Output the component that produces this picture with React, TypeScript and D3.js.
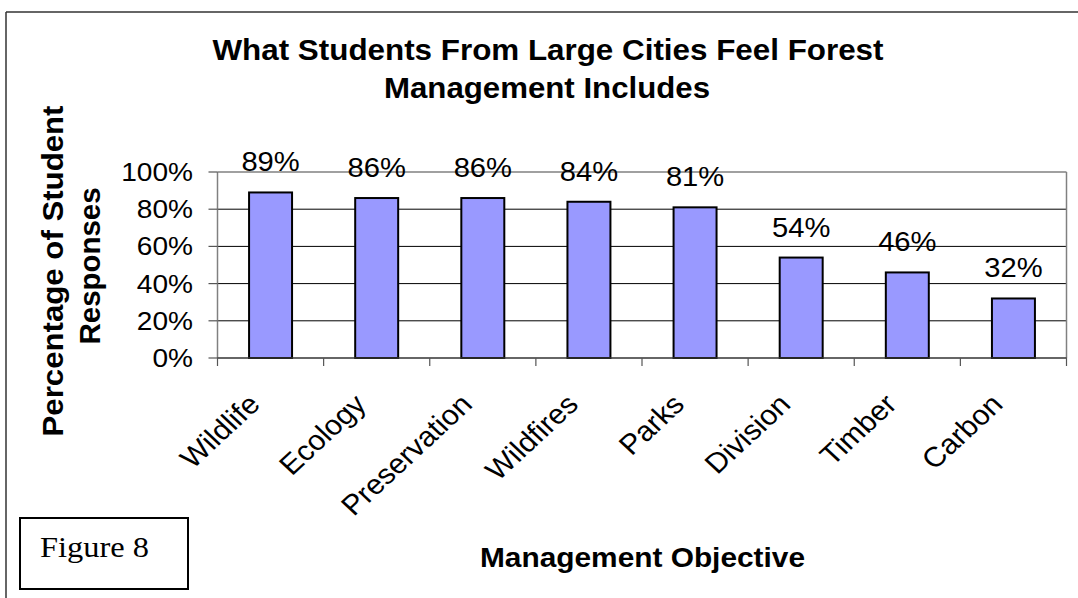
import React from "react";
import * as d3 from "d3";

const categories = ["Wildlife", "Ecology", "Preservation", "Wildfires", "Parks", "Division", "Timber", "Carbon"];
const values = [0.89, 0.86, 0.86, 0.84, 0.81, 0.54, 0.46, 0.32];
const yTicks = [0, 0.2, 0.4, 0.6, 0.8, 1.0];
const titleLines = ["What Students From Large Cities Feel Forest", "Management Includes"];
const yTitleLines = ["Percentage of Student", "Responses"];
const xTitle = "Management Objective";
const figureLabel = "Figure 8";

const W = 1078;
const H = 598;
const SX = 1.08; // horizontal stretch of text in reference
const SANS = "'Liberation Sans', Arial, sans-serif";
const SERIF = "'Liberation Serif', 'Times New Roman', serif";

function T(props: {
  x: number; y: number; size: number; text: string; anchor?: string; bold?: boolean;
  rotate?: number; family?: string; len?: number;
}) {
  const { x, y, size, text, anchor = "middle", bold = false, rotate = 0, family = SANS, len } = props;
  const lenAttr = len ? { textLength: rotate === 0 ? len / SX : len, lengthAdjust: "spacingAndGlyphs" } : {};
  return (
    <text
      transform={`translate(${x},${y}) scale(${SX},1) rotate(${rotate})`}
      fontFamily={family}
      fontSize={size}
      fontWeight={bold ? "bold" : "normal"}
      textAnchor={anchor}
      fill="#000"
      {...lenAttr}
    >
      {text}
    </text>
  );
}

export default function App() {
  const left = 217.5, right = 1066.5, top = 172, bottom = 358;
  const x = d3.scaleBand<string>().domain(categories).range([left, right]).paddingInner(0.595).paddingOuter(0.2975);
  const y = d3.scaleLinear().domain([0, 1]).range([bottom, top]);
  const fmt = d3.format(".0%");
  const step = x.step();
  const boundaries = d3.range(categories.length + 1).map((i) => left + i * step);

  return (
    <svg width={W} height={H} style={{ position: "absolute", left: 0, top: 0, background: "#fff" }}>
      <rect x={0} y={0} width={W} height={H} fill="#fff" />
      {/* outer frame */}
      <line x1={6} y1={12} x2={W} y2={12} stroke="#333" strokeWidth={1.5} />
      <line x1={6} y1={12} x2={6} y2={H} stroke="#333" strokeWidth={1.5} />

      {/* title */}
      <T x={548} y={59.5} size={29} bold text={titleLines[0]} len={671} />
      <T x={547} y={98} size={29} bold text={titleLines[1]} len={326} />

      {/* gridlines */}
      {yTicks.filter((t) => t > 0 && t < 1).map((t) => (
        <line key={t} x1={left} x2={right} y1={y(t)} y2={y(t)} stroke="#000" strokeWidth={1} />
      ))}
      {/* plot border top/right */}
      <line x1={left} x2={right} y1={y(1)} y2={y(1)} stroke="#808080" strokeWidth={1.5} />
      <line x1={right} x2={right} y1={y(1)} y2={bottom} stroke="#808080" strokeWidth={1.5} />
      {/* y axis */}
      <line x1={left} x2={left} y1={y(1)} y2={bottom} stroke="#808080" strokeWidth={1.5} />
      {yTicks.map((t) => (
        <g key={t}>
          <line x1={left - 9} x2={left} y1={y(t)} y2={y(t)} stroke="#555" strokeWidth={1.2} />
          <T x={193} y={y(t) + 9} size={26} anchor="end" text={fmt(t)} />
        </g>
      ))}

      {/* bars */}
      {categories.map((c, i) => (
        <rect key={c} x={x(c)} y={y(values[i])} width={x.bandwidth()} height={bottom - y(values[i])}
          fill="#9999FF" stroke="#000" strokeWidth={2} />
      ))}
      {/* x axis */}
      <line x1={left} x2={right} y1={bottom} y2={bottom} stroke="#333" strokeWidth={1.5} />
      {boundaries.map((b, i) => (
        <line key={i} x1={b} x2={b} y1={bottom} y2={bottom + 8} stroke="#555" strokeWidth={1.2} />
      ))}

      {/* data labels */}
      {categories.map((c, i) => (
        <T key={c} x={(x(c) as number) + x.bandwidth() / 2} y={y(values[i]) - 21} size={27} text={fmt(values[i])} />
      ))}

      {/* category labels */}
      {categories.map((c) => (
        <T key={c} x={(x(c) as number) + x.bandwidth() / 2 - 9} y={406} size={28} anchor="end" rotate={-45} text={c} />
      ))}

      {/* axis titles */}
      <T x={63} y={271} size={28} bold rotate={-90} text={yTitleLines[0]} len={331} />
      <T x={100} y={266} size={28} bold rotate={-90} text={yTitleLines[1]} len={157} />
      <T x={642.5} y={567} size={28} bold text={xTitle} len={325} />

      {/* figure label box */}
      <rect x={20} y={518} width={168} height={71} fill="#fff" stroke="#000" strokeWidth={2} />
      <T x={40} y={557} size={30} anchor="start" family={SERIF} text={figureLabel} />
    </svg>
  );
}
